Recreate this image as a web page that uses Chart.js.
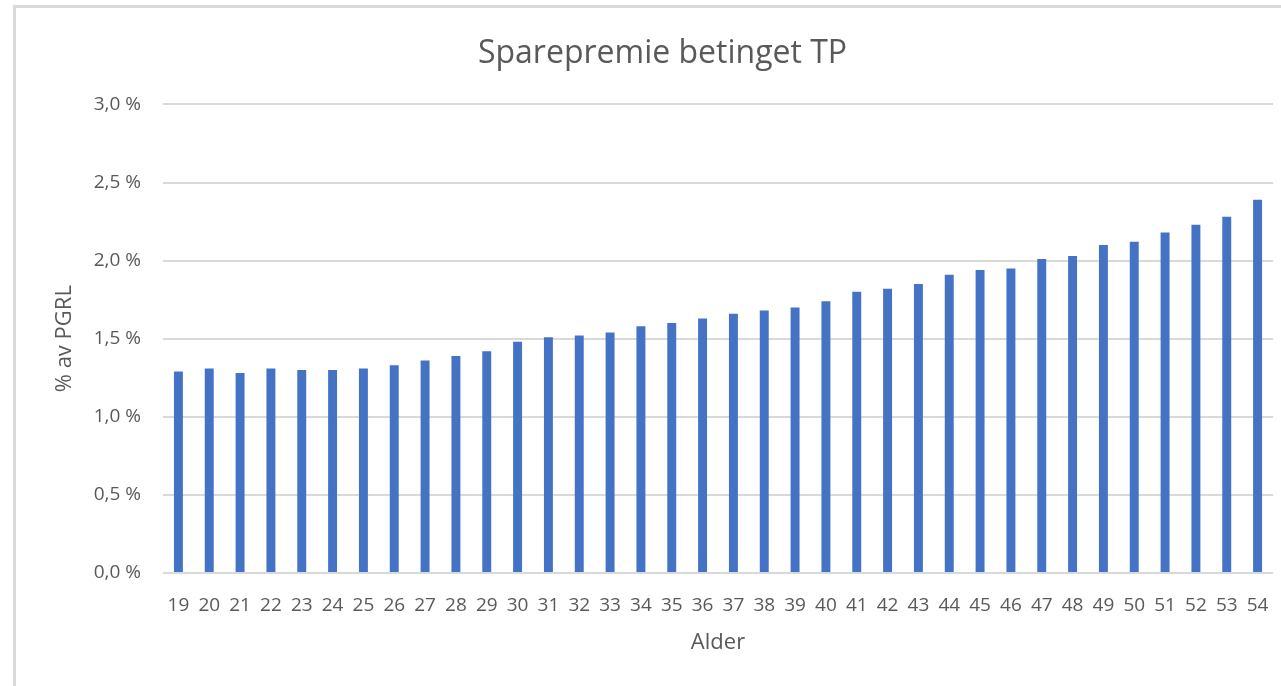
<!DOCTYPE html>
<html>
<head>
<meta charset="utf-8">
<script src="https://cdn.jsdelivr.net/npm/chart.js@4"></script>
<style>
  html, body { margin: 0; padding: 0; background: #ffffff; }
  body { width: 1281px; height: 686px; position: relative; overflow: hidden; }
  #frame { position: absolute; left: 13px; top: 5px; right: -5px; bottom: -5px;
           border-left: 3px solid #d9d9d9; border-top: 3px solid #d9d9d9; }
  #wrap { position: absolute; left: 0; top: 0; width: 1281px; height: 686px; }
</style>
</head>
<body>
<div id="frame"></div>
<div id="wrap"><canvas id="c" width="1281" height="686"></canvas></div>
<script>
const chartTitle = "Sparepremie betinget TP";
const xTitle = "Alder";
const yTitle = "% av PGRL";
const ages = [19,20,21,22,23,24,25,26,27,28,29,30,31,32,33,34,35,36,37,38,39,40,41,42,43,44,45,46,47,48,49,50,51,52,53,54];
const values = [1.29,1.31,1.28,1.31,1.30,1.30,1.31,1.33,1.36,1.39,1.42,1.48,1.51,1.52,1.54,1.58,1.60,1.63,1.66,1.68,1.70,1.74,1.80,1.82,1.85,1.91,1.94,1.95,2.01,2.03,2.10,2.12,2.18,2.23,2.28,2.39];
const yTicks = [0, 0.5, 1.0, 1.5, 2.0, 2.5, 3.0];

const textColor = "#595959";
const fontFamily = "'Open Sans', sans-serif";

new Chart(document.getElementById("c"), {
  type: "bar",
  data: {
    labels: ages.map(String),
    datasets: [{
      data: values,
      backgroundColor: "#4472c4",
      borderWidth: 0,
      barPercentage: 0.29,
      categoryPercentage: 1.0
    }]
  },
  options: {
    responsive: false,
    animation: false,
    layout: { padding: { left: 52, right: 8, top: 0, bottom: 30 } },
    plugins: {
      legend: { display: false },
      tooltip: { enabled: false },
      title: {
        display: true,
        text: chartTitle,
        color: textColor,
        font: { family: fontFamily, size: 32, weight: "normal" },
        padding: { top: 35, bottom: 31 }
      }
    },
    scales: {
      x: {
        grid: { display: false, drawTicks: false },
        border: { display: false },
        ticks: {
          color: textColor,
          font: { family: fontFamily, size: 19 },
          padding: 21,
          maxRotation: 0,
          autoSkip: false
        },
        title: {
          display: true,
          text: xTitle,
          color: textColor,
          font: { family: fontFamily, size: 22 },
          padding: { top: 13, bottom: 0 }
        },
        afterFit: (s) => { s.height = 113 - 30; s.paddingLeft = 0; s.paddingRight = 0; }
      },
      y: {
        min: 0,
        max: 3,
        afterBuildTicks: (s) => { s.ticks = yTicks.map(v => ({ value: v })); },
        grid: { color: "#d9d9d9", lineWidth: 2, drawTicks: false },
        border: { display: false },
        ticks: {
          color: textColor,
          font: { family: fontFamily, size: 19 },
          padding: 22,
          callback: (v) => v.toFixed(1).replace(".", ",") + " %"
        },
        title: {
          display: true,
          text: yTitle,
          color: textColor,
          font: { family: fontFamily, size: 22 },
          padding: { top: 0, bottom: 14 }
        },
        afterFit: (s) => { s.width = 163 - 52; }
      }
    }
  }
});
</script>
</body>
</html>
